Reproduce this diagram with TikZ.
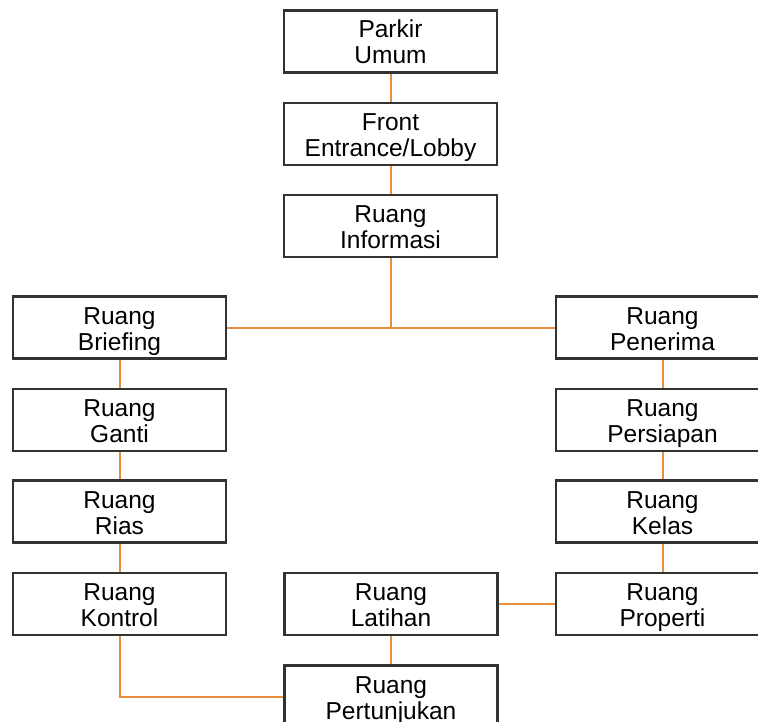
\documentclass[tikz,border=0pt]{standalone}
\usepackage{fontspec}
\setmainfont{Liberation Sans}
\definecolor{conn}{RGB}{232,142,62}
\definecolor{boxline}{RGB}{50,50,50}
\newcommand{\twoline}[2]{\rule{0pt}{19pt}#1\\\smash{#2}}
\begin{document}
\begin{tikzpicture}[x=1pt,y=-1pt,
  room/.style={draw=boxline, line width=2.2pt, fill=white, minimum width=213pt, minimum height=62pt,
    inner sep=0pt, align=center, font=\fontsize{24.5}{26}\selectfont},
  link/.style={draw=conn, line width=2pt}]
\useasboundingbox (0,0) rectangle (758,722);
\clip (0,0) rectangle (758,722);
\node[room] (parkir) at (390.5,41.5) {\twoline{Parkir}{Umum}};
\node[room] (front) at (390.5,134) {\twoline{Front}{Entrance/Lobby}};
\node[room] (info) at (390.5,226) {\twoline{Ruang}{Informasi}};
\node[room] (brief) at (119.5,327.5) {\twoline{Ruang}{Briefing}};
\node[room] (ganti) at (119.5,420) {\twoline{Ruang}{Ganti}};
\node[room] (rias) at (119.5,511.5) {\twoline{Ruang}{Rias}};
\node[room] (kontrol) at (119.5,604) {\twoline{Ruang}{Kontrol}};
\node[room] (pen) at (662.5,327.5) {\twoline{Ruang}{Penerima}};
\node[room] (pers) at (662.5,420) {\twoline{Ruang}{Persiapan}};
\node[room] (kelas) at (662.5,511.5) {\twoline{Ruang}{Kelas}};
\node[room] (prop) at (662.5,604) {\twoline{Ruang}{Properti}};
\node[room] (lat) at (391,604) {\twoline{Ruang}{Latihan}};
\node[room] (pert) at (391,696.5) {\twoline{Ruang}{Pertunjukan}};
\draw[link] (parkir) -- (front);
\draw[link] (front) -- (info);
\draw[link] (info.south) -- (info.south |- brief.east);
\draw[link] (brief.east) -- (pen.west);
\draw[link] (brief) -- (ganti);
\draw[link] (ganti) -- (rias);
\draw[link] (rias) -- (kontrol);
\draw[link] (pen) -- (pers);
\draw[link] (pers) -- (kelas);
\draw[link] (kelas) -- (prop);
\draw[link] (lat.east) -- (prop.west);
\draw[link] (lat) -- (pert);
\draw[link] (kontrol.south) |- (pert.west);
\end{tikzpicture}
\end{document}
